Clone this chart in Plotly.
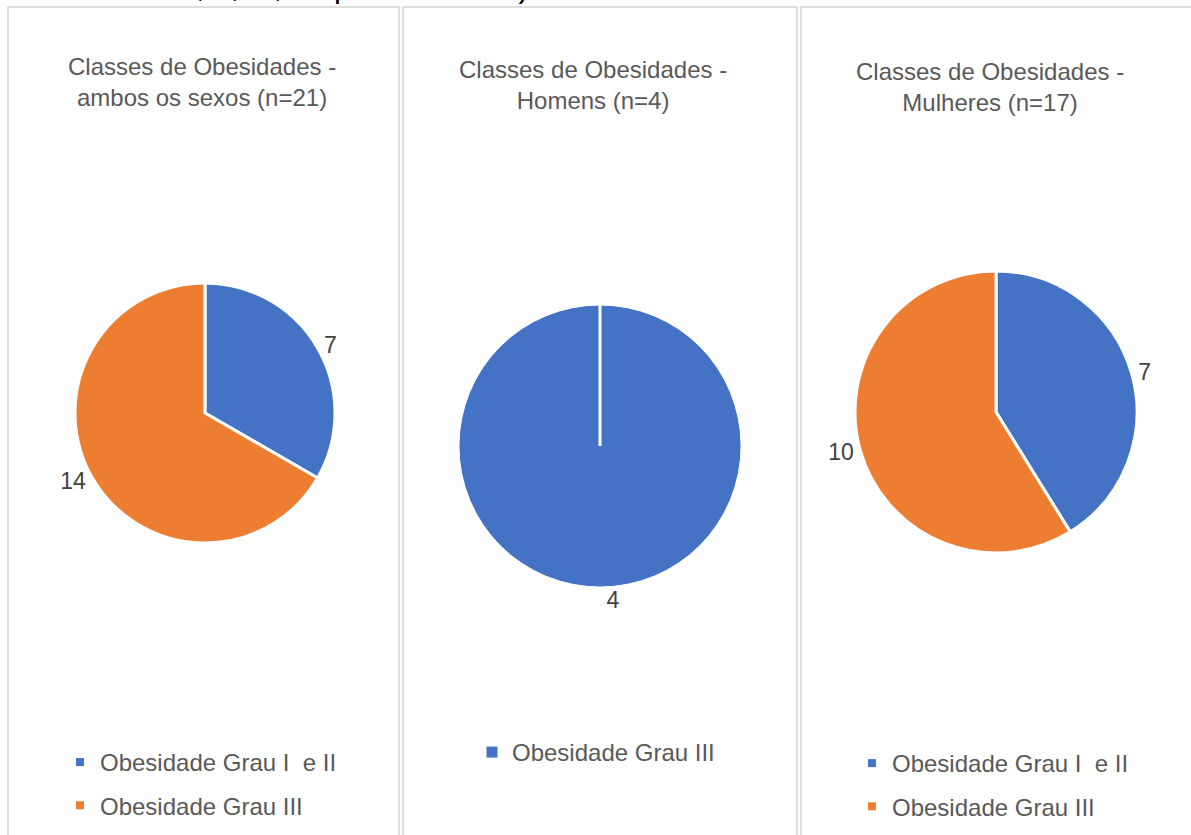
import plotly.graph_objects as go

# ---- data ----
categories = ["Obesidade Grau I  e II", "Obesidade Grau III"]
ambos_values = [7, 14]
homens_categories = ["Obesidade Grau III"]
homens_values = [4]
mulheres_values = [7, 10]
titles = [
    "Classes de Obesidades -<br>ambos os sexos (n=21)",
    "Classes de Obesidades -<br>Homens (n=4)",
    "Classes de Obesidades -<br>Mulheres (n=17)",
]
top_text = "amostra I, II, III, respectivamente)"

BLUE = "#4472C4"
ORANGE = "#ED7D31"
TXT = "#595959"
LBL = "#404040"
FONT = "Liberation Sans, Arial, sans-serif"

W, H = 1191, 835


def px(x):
    return x / W


def py(y):
    return 1 - y / H


# pie domains (pixel boxes: x0, x1, ytop, ybottom)
dom1 = (75, 335, 283, 543)
dom2 = (459, 741, 305, 587)
dom3 = (855, 1137, 271, 553)


def dom(d):
    return dict(x=[px(d[0]), px(d[1])], y=[py(d[3]), py(d[2])])


common = dict(
    sort=False,
    direction="clockwise",
    rotation=0,
    textinfo="value",
    textposition="outside",
    outsidetextfont=dict(size=23, color=LBL, family=FONT),
    hoverinfo="label+value",
    showlegend=False,
)

fig = go.Figure()
fig.add_trace(go.Pie(
    labels=categories, values=ambos_values, domain=dom(dom1),
    marker=dict(colors=[BLUE, ORANGE], line=dict(color="white", width=3)),
    **common))
fig.add_trace(go.Pie(
    labels=homens_categories, values=homens_values, domain=dom(dom2),
    marker=dict(colors=[BLUE], line=dict(color="white", width=1)),
    **common))
fig.add_trace(go.Pie(
    labels=categories, values=mulheres_values, domain=dom(dom3),
    marker=dict(colors=[BLUE, ORANGE], line=dict(color="white", width=3)),
    **common))

# legend entries, one legend per panel (pie slice colours)
panel_legends = [
    ("legend", categories, [BLUE, ORANGE], 8),
    ("legend2", homens_categories, [BLUE], 11),
    ("legend3", categories, [BLUE, ORANGE], 8),
]
for lid, cats, cols, msize in panel_legends:
    for c, col in zip(cats, cols):
        fig.add_trace(go.Scatter(
            x=[None], y=[None], mode="markers", name=c,
            marker=dict(symbol="square", size=msize, color=col, line=dict(width=0)),
            legend=lid, legendgroup=lid + c, showlegend=True, hoverinfo="skip"))

shapes = []
border = dict(color="#D4D4D4", width=1.5)
for (x0, x1) in [(8, 399), (403, 797), (801, 1200)]:
    shapes.append(dict(type="rect", xref="paper", yref="paper",
                       x0=px(x0), x1=px(x1), y0=-0.1, y1=py(7),
                       line=border, fillcolor="rgba(0,0,0,0)", layer="below"))
# white radial edge of the single-slice pie (start of the slice at 12 o'clock)
cx2 = (dom2[0] + dom2[1]) / 2
cy2 = (dom2[2] + dom2[3]) / 2
shapes.append(dict(type="line", xref="paper", yref="paper",
                   x0=px(cx2), x1=px(cx2), y0=py(cy2), y1=py(dom2[2]),
                   line=dict(color="white", width=3)))

annotations = []
for t, (x, y) in zip(titles, [(202, 82), (593, 85), (990, 87)]):
    annotations.append(dict(text=t, x=px(x), y=py(y), xref="paper", yref="paper",
                            xanchor="center", yanchor="middle", showarrow=False,
                            font=dict(size=24, color=TXT, family=FONT)))
annotations.append(dict(text=top_text, x=px(531), y=py(6.5), xref="paper", yref="paper",
                        xanchor="right", yanchor="bottom", showarrow=False,
                        font=dict(size=31, color="#000000", family=FONT)))

leg = dict(font=dict(size=24, color=TXT, family=FONT), bgcolor="rgba(0,0,0,0)",
           xanchor="left", yanchor="top", traceorder="grouped", tracegroupgap=9,
           itemclick=False, itemdoubleclick=False)

fig.update_layout(
    width=W, height=H,
    margin=dict(l=0, r=0, t=0, b=0),
    paper_bgcolor="white",
    plot_bgcolor="rgba(0,0,0,0)",
    xaxis=dict(visible=False),
    yaxis=dict(visible=False),
    shapes=shapes,
    annotations=annotations,
    legend=dict(x=px(60), y=py(740), **leg),
    legend2=dict(x=px(472), y=py(730), **leg),
    legend3=dict(x=px(852), y=py(741), **leg),
    font=dict(family=FONT),
)

fig.write_html("out.html")
